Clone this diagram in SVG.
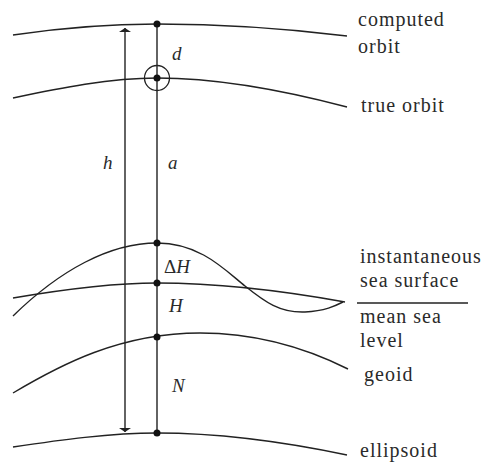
<svg xmlns="http://www.w3.org/2000/svg" width="482" height="462" viewBox="0 0 482 462">
<style>
.c{fill:none;stroke:#222;stroke-width:1.4}
.v{stroke:#222;stroke-width:1.4}
.dot{fill:#111}
.lbl{font-family:"Liberation Serif",serif;font-size:20px;letter-spacing:1px;fill:#2a2a2a}
.it{font-family:"Liberation Serif",serif;font-style:italic;font-size:19px;fill:#2a2a2a}
</style>
<defs>
<marker id="ah" viewBox="0 0 10 10" refX="10" refY="5" markerWidth="4" markerHeight="12" markerUnits="userSpaceOnUse" orient="auto" preserveAspectRatio="none">
<path d="M0,0 L10,5 L0,10 Z" fill="#222"/>
</marker>
</defs>
<rect width="482" height="462" fill="#fff"/>
<g id="curves">
<path id="computed-orbit" class="c" d="M13,35 C60,28 110,24 157,24 C220,24 290,29 347,36"/>
<path id="true-orbit" class="c" d="M13,98 C60,88 110,78 157,78 C220,78 290,92 347,107"/>
<path id="sea-surface" class="c" d="M13,316 C60,270 110,243 157,243 C200,243 225,270 245,286 C265,302 280,313 305,312 C325,311 335,306 343,302"/>
<path id="mean-sea" class="c" d="M13,298 C60,290 110,283 157,283 C220,283 290,292 345,302"/>
<path id="geoid" class="c" d="M13,393 C60,365 120,333 200,333 C260,333 310,350 348,369"/>
<path id="ellipsoid" class="c" d="M13,447 C60,440 110,433 157,433 C220,433 290,443 347,455"/>
</g>
<g id="connectors">
<line class="v" x1="157" y1="24" x2="157" y2="433"/>
<line class="v" x1="125" y1="230" x2="125" y2="28" marker-end="url(#ah)"/>
<line class="v" x1="125" y1="230" x2="125" y2="432" marker-end="url(#ah)"/>
<line class="v" x1="357" y1="303" x2="468" y2="303"/>
</g>
<g id="points">
<circle class="dot" cx="157" cy="24" r="3.5"/>
<circle class="dot" cx="157" cy="78" r="3.5"/>
<circle cx="157" cy="78" r="12.5" fill="none" stroke="#222" stroke-width="1.3"/>
<circle class="dot" cx="157" cy="243" r="3.5"/>
<circle class="dot" cx="157" cy="283" r="3.5"/>
<circle class="dot" cx="157" cy="337" r="3.5"/>
<circle class="dot" cx="157" cy="433" r="3.5"/>
</g>
<g id="symbols">
<text class="it" x="172" y="60">d</text>
<text class="it" x="103" y="169">h</text>
<text class="it" x="168" y="169">a</text>
<text class="it" x="164" y="273"><tspan font-style="normal">Δ</tspan>H</text>
<text class="it" x="169" y="312">H</text>
<text class="it" x="172" y="392">N</text>
</g>
<g id="labels">
<text class="lbl" x="358" y="26">computed</text>
<text class="lbl" x="358" y="53">orbit</text>
<text class="lbl" x="361" y="112">true orbit</text>
<text class="lbl" x="360" y="263">instantaneous</text>
<text class="lbl" x="360" y="287">sea surface</text>
<text class="lbl" x="360" y="323">mean sea</text>
<text class="lbl" x="360" y="347">level</text>
<text class="lbl" x="364" y="381">geoid</text>
<text class="lbl" x="360" y="457">ellipsoid</text>
</g>
</svg>
